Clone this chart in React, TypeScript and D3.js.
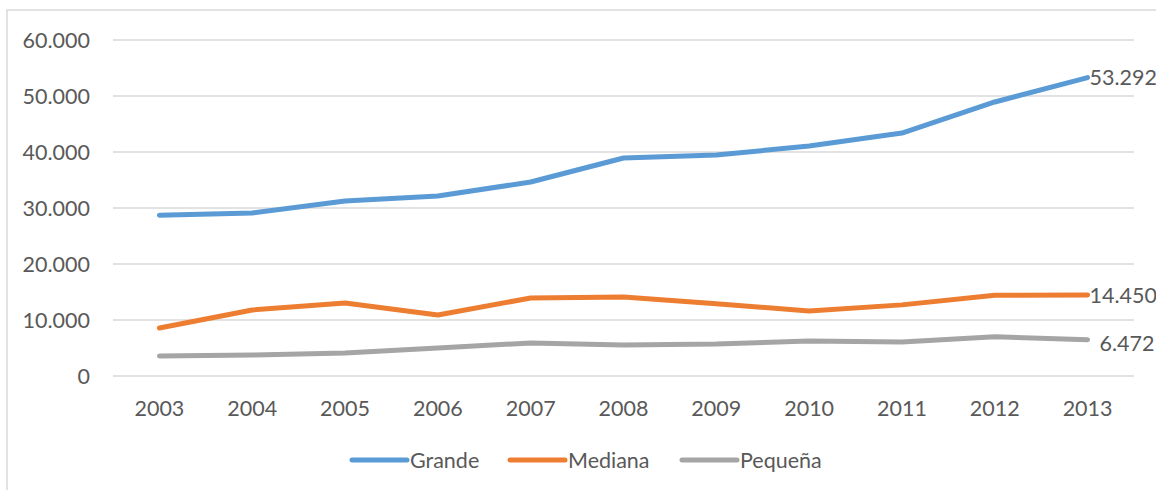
import React from 'react';
import * as d3 from 'd3';

const years = ['2003', '2004', '2005', '2006', '2007', '2008', '2009', '2010', '2011', '2012', '2013'];
const grande = [28700, 29100, 31250, 32150, 34640, 38930, 39460, 41070, 43390, 48930, 53292];
const mediana = [8570, 11790, 13040, 10890, 13930, 14110, 12900, 11600, 12700, 14420, 14450];
const pequena = [3570, 3750, 4100, 5000, 5900, 5540, 5700, 6250, 6070, 7000, 6472];
const yTicks = [0, 10000, 20000, 30000, 40000, 50000, 60000];

const seriesList = [
  { name: 'Grande', values: grande, color: '#5B9BD5' },
  { name: 'Mediana', values: mediana, color: '#ED7D31' },
  { name: 'Pequeña', values: pequena, color: '#A5A5A5' },
];

const fmt = (v: number) => d3.format(',')(v).replace(/,/g, '.');

export default function App() {
  const width = 1156;
  const height = 490;
  const left = 113;
  const right = 1134;
  const top = 40;
  const bottom = 376;

  const x = d3.scaleBand().domain(years).range([left, right]);
  const y = d3.scaleLinear().domain([0, 60000]).range([bottom, top]);
  const cx = (yr: string) => (x(yr) as number) + x.bandwidth() / 2;

  const line = d3
    .line<number>()
    .x((_, i) => cx(years[i]))
    .y((d) => y(d));

  const font = 'Lato, "Open Sans", sans-serif';
  const textColor = '#595959';
  const fs = 21.5;

  // legend entries: line start
  const legendPos = [352, 510, 682];

  return (
    <svg
      width={width}
      height={height}
      style={{ position: 'absolute', left: 0, top: 0, background: '#fff' }}
      fontFamily={font}
    >
      <rect x={7} y={10} width={width + 10} height={height + 10} fill="#fff" stroke="#D9D9D9" strokeWidth={1.5} />
      {yTicks.map((t) => (
        <g key={t}>
          <line x1={left} x2={right} y1={y(t)} y2={y(t)} stroke="#D9D9D9" strokeWidth={1.3} />
          <text x={90} y={y(t)} dy="0.35em" textAnchor="end" fontSize={fs} fill={textColor}>
            {fmt(t)}
          </text>
        </g>
      ))}
      {years.map((yr) => (
        <text key={yr} x={cx(yr)} y={416} textAnchor="middle" fontSize={fs} fill={textColor}>
          {yr}
        </text>
      ))}
      {seriesList.map((s) => (
        <path
          key={s.name}
          d={line(s.values) || ''}
          fill="none"
          stroke={s.color}
          strokeWidth={5}
          strokeLinecap="round"
          strokeLinejoin="round"
        />
      ))}
      {seriesList.map((s) => {
        const last = s.values[s.values.length - 1];
        return (
          <text
            key={s.name}
            x={cx(years[years.length - 1]) + 2}
            y={y(last) + (s.name === 'Pequeña' ? 4 : 0)}
            dy="0.35em"
            fontSize={fs}
            fill={textColor}
            dx={s.name === 'Pequeña' ? 10 : 0}
          >
            {fmt(last)}
          </text>
        );
      })}
      {seriesList.map((s, i) => (
        <g key={s.name} transform={`translate(${legendPos[i]},460)`}>
          <line x1={0} x2={55} y1={0} y2={0} stroke={s.color} strokeWidth={5} strokeLinecap="round" />
          <text x={58} y={0} dy="0.35em" fontSize={fs} fill={textColor}>
            {s.name}
          </text>
        </g>
      ))}
    </svg>
  );
}
